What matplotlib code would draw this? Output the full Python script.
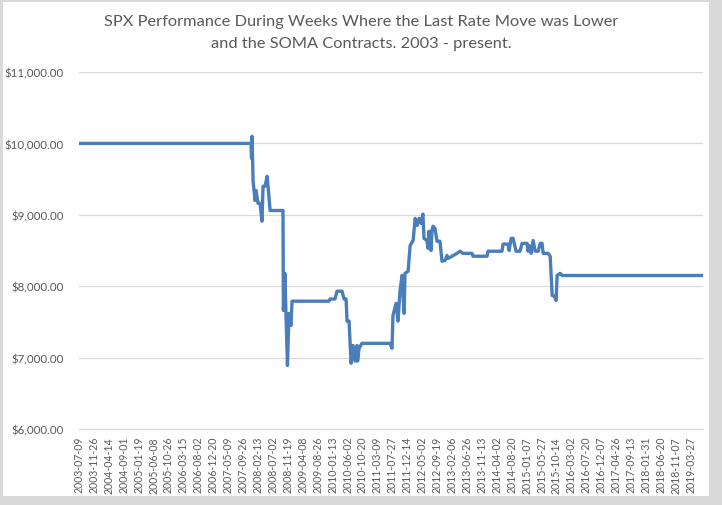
import matplotlib
matplotlib.use('Agg')
import matplotlib.pyplot as plt
import matplotlib.dates as mdates
from matplotlib.patches import Rectangle
import numpy as np
import pandas as pd

# weekly SPX value, $10,000 start (change points only)
dates = ['2003-07-09', '2007-12-09', '2007-12-14', '2007-12-19', '2007-12-28',
         '2008-01-16', '2008-01-25', '2008-02-13', '2008-03-03', '2008-03-21',
         '2008-03-31', '2008-04-19', '2008-05-08', '2008-05-17', '2008-06-05',
         '2008-10-04', '2008-10-08', '2008-10-22', '2008-10-31', '2008-11-15',
         '2008-11-29', '2008-12-18', '2008-12-28', '2009-12-10', '2009-12-19',
         '2010-02-04', '2010-02-23', '2010-04-11', '2010-04-30', '2010-05-19',
         '2010-05-28', '2010-06-16', '2010-07-05', '2010-07-24', '2010-08-11',
         '2010-08-30', '2010-09-04', '2010-09-18', '2010-10-15', '2011-07-05',
         '2011-07-24', '2011-08-02', '2011-08-31', '2011-09-18', '2011-10-07',
         '2011-10-26', '2011-11-14', '2011-11-23', '2011-12-22', '2012-01-10',
         '2012-02-07', '2012-02-26', '2012-03-16', '2012-04-03', '2012-04-22',
         '2012-05-09', '2012-05-19', '2012-06-16', '2012-06-26', '2012-07-05',
         '2012-07-24', '2012-08-02', '2012-08-12', '2012-08-30', '2012-09-18',
         '2012-10-16', '2012-11-04', '2012-12-02', '2012-12-21', '2012-12-31',
         '2013-02-06', '2013-03-25', '2013-04-22', '2013-05-20', '2013-08-13',
         '2013-08-22', '2014-01-01', '2014-01-10', '2014-05-21', '2014-05-31',
         '2014-07-17', '2014-07-27', '2014-08-15', '2014-09-02', '2014-09-30',
         '2014-11-06', '2014-11-25', '2015-01-11', '2015-01-20', '2015-01-30',
         '2015-02-18', '2015-03-09', '2015-03-28', '2015-04-25', '2015-05-14',
         '2015-06-01', '2015-06-11', '2015-07-28', '2015-08-16', '2015-09-04',
         '2015-09-23', '2015-10-11', '2015-10-20', '2015-11-17', '2015-12-06',
         '2019-07-20']
values = [10000, 10000, 9790, 10100, 9480,
          9200, 9340, 9160, 9160, 8910,
          9400, 9400, 9540, 9400, 9060,
          9060, 7660, 8180, 7660, 6890,
          7620, 7450, 7790, 7790, 7820,
          7820, 7930, 7930, 7820, 7820,
          7510, 7510, 6920, 7170, 6950,
          7170, 6950, 7130, 7200, 7200,
          7130, 7590, 7760, 7510, 7930,
          8150, 7620, 8180, 8210, 8570,
          8640, 8950, 8850, 8950, 8880,
          9010, 8670, 8640, 8530, 8770,
          8500, 8780, 8840, 8810, 8630,
          8630, 8350, 8360, 8430, 8390,
          8420, 8460, 8490, 8460, 8460,
          8420, 8420, 8490, 8490, 8590,
          8590, 8500, 8670, 8670, 8490,
          8490, 8600, 8600, 8490, 8570,
          8460, 8640, 8490, 8490, 8600,
          8600, 8460, 8460, 8420, 7870,
          7860, 7800, 8150, 8180, 8150,
          8150]

tick_dates = pd.date_range('2003-07-09', periods=42, freq='140D')
y_ticks = [6000, 7000, 8000, 9000, 10000, 11000]

title = ('SPX Performance During Weeks Where the Last Rate Move was Lower\n'
         'and the SOMA Contracts. 2003 - present.')

plt.rcParams['font.family'] = ['Lato', 'DejaVu Sans']
txt_color = '#595959'
grid_color = '#d9d9d9'

fig = plt.figure(figsize=(7.22, 5.06), dpi=100, facecolor='#d9d9d9')
# white chart area inside the gray frame
fig.patches.append(Rectangle((3 / 722, 9 / 506), 706 / 722, 494 / 506,
                             transform=fig.transFigure, facecolor='white',
                             edgecolor='none', zorder=-10))

ax = fig.add_axes([79 / 722, 76 / 506, 624 / 722, 357 / 506])
ax.set_facecolor('white')

x = pd.to_datetime(dates)
ax.plot(x, values, color='#4a7ebb', lw=2.4, solid_joinstyle='round', zorder=3)

ax.set_ylim(6000, 11000)
ax.set_yticks(y_ticks)
ax.set_yticklabels(['${:,.2f}'.format(v) for v in y_ticks])
ax.yaxis.grid(True, color=grid_color, lw=0.9)
ax.set_axisbelow(True)

ax.set_xlim(pd.Timestamp('2003-07-09'), pd.Timestamp('2019-07-20'))
ax.set_xticks(tick_dates)
ax.xaxis.set_major_formatter(mdates.DateFormatter('%Y-%m-%d'))
plt.setp(ax.get_xticklabels(), rotation=90)

for s in ['top', 'right', 'left']:
    ax.spines[s].set_visible(False)
ax.spines['bottom'].set_color(grid_color)
ax.spines['bottom'].set_linewidth(0.9)
ax.tick_params(axis='both', length=0, colors=txt_color)
ax.tick_params(axis='y', pad=11, labelsize=8.3)
ax.tick_params(axis='x', pad=5, labelsize=7.6)

fig.text(361 / 722, 1 - 33 / 506, title, ha='center', va='center',
         fontsize=11.8, color=txt_color, linespacing=1.65)

fig.savefig('out.png', dpi=100, facecolor=fig.get_facecolor())
